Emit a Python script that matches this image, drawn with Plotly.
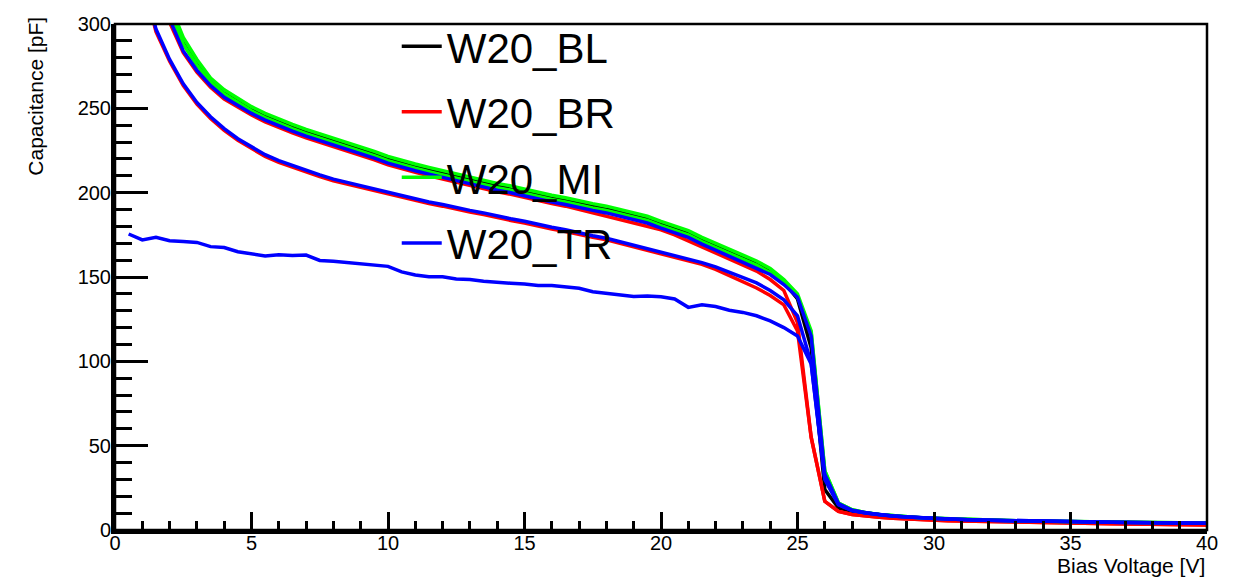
import plotly.graph_objects as go

# Bias voltage grid (V)
voltage = [0.5 * i for i in range(1, 81)]

w20_bl = [418, 378, 342, 310, 290, 277, 266.5, 259.5, 254.5, 249.5,
          245.5, 242, 239, 236, 233.5, 230.5, 228, 225.5, 223, 220,
          217.5, 215.5, 213.5, 211.5, 209.5, 207.5, 206, 204, 202.5, 200.5,
          198.5, 197, 195.5, 193.5, 192, 190.5, 188.5, 186.5, 184.5, 181.5,
          179, 176, 172, 168.5, 165, 161.5, 158, 153.5, 147, 137,
          108, 24, 13, 11, 9.8, 9.0, 8.2, 7.6, 7.1, 6.7,
          6.4, 6.1, 5.9, 5.7, 5.5, 5.3, 5.2, 5.0, 4.9, 4.8,
          4.7, 4.6, 4.5, 4.4, 4.3, 4.2, 4.1, 4.0, 3.95, 3.9]

w20_br_a = [408, 368, 331, 301, 283, 271.5, 262.5, 255.5, 250.5, 246,
            242, 238.5, 235.5, 232.5, 230, 227, 224.5, 222, 219.5, 216.5,
            214, 212, 210, 208, 206, 204, 202.5, 200.5, 199, 197,
            195, 193.5, 192, 190, 188.5, 186.5, 184.5, 182.5, 180.5, 178,
            175, 171.5, 167.5, 164, 160.5, 157, 153.5, 148.5, 142, 123,
            55, 17, 11, 9.2, 8.2, 7.5, 7.0, 6.5, 6.1, 5.8,
            5.5, 5.3, 5.1, 4.9, 4.7, 4.5, 4.4, 4.2, 4.1, 4.0,
            3.9, 3.8, 3.7, 3.6, 3.5, 3.4, 3.3, 3.2, 3.1, 3.0]

w20_br_b = [368, 328, 295.5, 278, 263.5, 252.5, 244, 237, 231, 226,
            221.5, 218, 215, 212, 209.5, 207, 205, 203, 201, 199,
            197, 195.5, 193.5, 192, 190, 188.5, 187, 185, 183.5, 182,
            180, 178.5, 177, 175, 173.5, 172, 170, 168, 166, 164,
            162, 160, 157.5, 154.5, 151, 147.5, 143.5, 139, 133.5, 118,
            55, 17, 11, 9.2, 8.2, 7.5, 7.0, 6.5, 6.1, 5.8,
            5.5, 5.3, 5.1, 4.9, 4.7, 4.5, 4.4, 4.2, 4.1, 4.0,
            3.9, 3.8, 3.7, 3.6, 3.5, 3.4, 3.3, 3.2, 3.1, 3.0]

w20_mi_a = [420, 380, 345, 312, 292, 279, 268, 261, 256, 251,
            247, 243.5, 240.5, 237.5, 235, 232, 229.5, 227, 224.5, 221.5,
            219, 217, 215, 213, 211, 209, 207.5, 205.5, 204, 202,
            200, 198.5, 197, 195, 193.5, 192, 190, 188, 186, 183,
            180.5, 177.5, 173.5, 170, 166.5, 163, 159.5, 155, 148.5, 140,
            118, 35, 16, 12, 10.3, 9.2, 8.4, 7.8, 7.3, 6.9,
            6.6, 6.3, 6.1, 5.9, 5.7, 5.5, 5.4, 5.2, 5.1, 5.0,
            4.9, 4.8, 4.7, 4.6, 4.5, 4.4, 4.3, 4.2, 4.15, 4.1]

w20_mi_b = [415, 375, 339, 308, 288, 275.5, 265.5, 258.5, 253.5, 248.5,
            244.5, 241, 238, 235, 232.5, 229.5, 227, 224.5, 222, 219,
            216.5, 214.5, 212.5, 210.5, 208.5, 206.5, 205, 203, 201.5, 199.5,
            197.5, 196, 194.5, 192.5, 191, 189.5, 187.5, 185.5, 183.5, 180.5,
            178, 175, 171, 167.5, 164, 160.5, 157, 152.5, 146.5, 138.5,
            117, 35, 16, 12, 10.3, 9.2, 8.4, 7.8, 7.3, 6.9,
            6.6, 6.3, 6.1, 5.9, 5.7, 5.5, 5.4, 5.2, 5.1, 5.0,
            4.9, 4.8, 4.7, 4.6, 4.5, 4.4, 4.3, 4.2, 4.15, 4.1]

w20_tr_a = [410, 370, 333, 303, 284, 272.5, 263.5, 256.5, 251.5, 247,
            243, 239.5, 236.5, 233.5, 231, 228, 225.5, 223, 220.5, 217.5,
            215, 213, 211, 209, 207, 205, 203.5, 201.5, 200, 198,
            196, 194.5, 193, 191, 189.5, 188, 186, 184, 182, 179,
            176.5, 173.5, 169.5, 166, 162.5, 159, 155.5, 151.5, 145.5, 138,
            115, 33, 15.6, 11.7, 10.1, 9.1, 8.3, 7.7, 7.2, 6.8,
            6.5, 6.2, 6.0, 5.8, 5.6, 5.4, 5.3, 5.1, 5.0, 4.9,
            4.8, 4.7, 4.6, 4.5, 4.4, 4.3, 4.2, 4.1, 4.0, 3.95]

w20_tr_b = [370, 330, 297, 279, 264.5, 253.5, 245, 238, 232, 227,
            222.5, 219, 216, 213, 210.5, 208, 206, 204, 202, 200,
            198, 196.5, 194.5, 193, 191, 189.5, 188, 186, 184.5, 183,
            181, 179.5, 178, 176, 174.5, 173, 171, 169, 167, 165,
            163, 161, 158.5, 156, 153, 150, 146.5, 142, 136.5, 127,
            99, 31, 15, 11.5, 10.1, 9.1, 8.3, 7.7, 7.2, 6.8,
            6.5, 6.2, 6.0, 5.8, 5.6, 5.4, 5.3, 5.1, 5.0, 4.9,
            4.8, 4.7, 4.6, 4.5, 4.4, 4.3, 4.2, 4.1, 4.0, 3.95]

w20_tr_c = [175.5, 172, 173.5, 171.5, 171, 170.5, 168, 167.5, 165, 164,
            162.5, 163.2, 162.7, 163, 159.8, 159.3, 158.5, 157.5, 156.7, 156.3,
            153, 151.2, 150.2, 150.2, 148.8, 148.5, 147.5, 146.7, 146.3, 145.8,
            145, 145, 144.2, 143.3, 141.3, 140.4, 139.4, 138.5, 138.8, 138.3,
            137, 132, 133.6, 132.5, 130.3, 129, 127, 124, 120, 115,
            98.5, 30, 15, 11.5, 10.1, 9.1, 8.3, 7.7, 7.2, 6.8,
            6.5, 6.2, 6.0, 5.8, 5.6, 5.4, 5.3, 5.1, 5.0, 4.9,
            4.8, 4.7, 4.6, 4.5, 4.4, 4.3, 4.2, 4.1, 4.0, 3.95]

x_ticks = [0, 5, 10, 15, 20, 25, 30, 35, 40]
y_ticks = [0, 50, 100, 150, 200, 250, 300]

BLACK = "#000000"
RED = "#ff0000"
GREEN = "#00ff00"
BLUE = "#0000ff"
LW = 3.5

series = [
    ("W20_BL", w20_bl, BLACK, True),
    ("W20_BR", w20_br_a, RED, True),
    ("W20_BR", w20_br_b, RED, False),
    ("W20_MI", w20_mi_a, GREEN, True),
    ("W20_MI", w20_mi_b, GREEN, False),
    ("W20_TR", w20_tr_a, BLUE, True),
    ("W20_TR", w20_tr_b, BLUE, False),
    ("W20_TR", w20_tr_c, BLUE, False),
]

fig = go.Figure()
for i, (name, vals, col, show) in enumerate(series):
    fig.add_trace(go.Scatter(
        x=voltage, y=vals, mode="lines", name=name,
        line=dict(color=col, width=LW),
        showlegend=show, legendgroup="g%d" % i,
    ))

FONT = "Liberation Sans, Arial, Helvetica, sans-serif"

fig.update_layout(
    width=1241, height=579,
    margin=dict(l=115, r=34, t=16, b=49),
    paper_bgcolor="white", plot_bgcolor="white",
    font=dict(family=FONT, color="black", size=20),
    showlegend=True,
    legend=dict(
        x=0.258, y=1.023, xanchor="left", yanchor="top",
        bgcolor="rgba(0,0,0,0)", borderwidth=0,
        font=dict(size=42, family=FONT, color="black"),
        tracegroupgap=8, itemwidth=40,
    ),
    xaxis=dict(
        range=[0, 40], tickvals=x_ticks, ticktext=[str(v) for v in x_ticks],
        ticks="inside", ticklen=18, tickwidth=2.5, tickcolor="black",
        minor=dict(dtick=1, ticks="inside", ticklen=9, tickwidth=2.5, tickcolor="black"),
        showline=True, linecolor="black", linewidth=4,
        showgrid=False, zeroline=False, ticklabelstandoff=-8,
        tickfont=dict(size=20, family=FONT),
    ),
    yaxis=dict(
        range=[0, 300], tickvals=y_ticks, ticktext=[str(v) for v in y_ticks],
        ticks="inside", ticklen=33, tickwidth=3, tickcolor="black",
        minor=dict(dtick=10, ticks="inside", ticklen=17, tickwidth=3, tickcolor="black"),
        showline=True, linecolor="black", linewidth=4,
        showgrid=False, zeroline=False, ticklabelstandoff=-4,
        tickfont=dict(size=20, family=FONT),
    ),
    shapes=[dict(type="rect", xref="x domain", yref="y domain",
                 x0=0, x1=1, y0=0, y1=1, line=dict(color="black", width=2.5),
                 layer="above")],
    annotations=[
        dict(text="Capacitance [pF]", xref="paper", yref="paper",
             x=-0.073, y=1.018, xanchor="center", yanchor="top",
             textangle=-90, showarrow=False, font=dict(size=21, family=FONT)),
        dict(text="Bias Voltage [V]", xref="paper", yref="paper",
             x=1.0, y=-0.07, xanchor="right", yanchor="middle",
             showarrow=False, font=dict(size=21, family=FONT)),
    ],
)

fig.write_html("out.html")
